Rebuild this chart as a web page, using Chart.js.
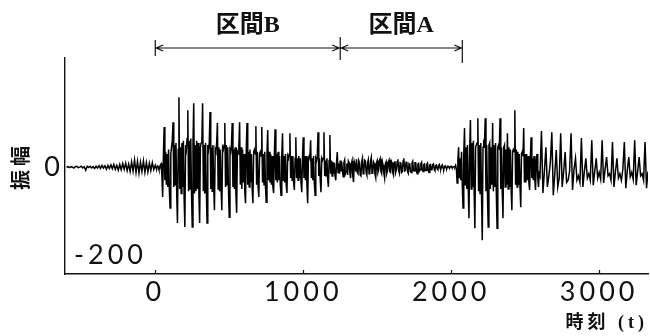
<!DOCTYPE html>
<html>
<head>
<meta charset="utf-8">
<script src="https://cdn.jsdelivr.net/npm/chart.js@4"></script>
<style>
  html, body { margin: 0; padding: 0; background: #fff; }
  #wrap { width: 650px; height: 336px; }
</style>
</head>
<body>
<div id="wrap"><canvas id="wave"></canvas></div>
<script>
// amplitude samples, kept per stretch of the recording: each has its own start time and sample step

// t = -600 .. -10, every 10 : quiet lead-in
const quietStart = -600, quietStep = 10;
const quiet = [
  0, 1, -1, 1, 0, -2, 1, 2, -1, 0,
  2, -2, 1, -7, 2, -1, 2, -2, 1, -3,
  2, -2, 3, -3, 4, -2, 3, -5, 4, -3,
  5, -4, 6, -5, 4, -7, 6, -6, 8, -5,
  9, -8, 7, -10, 12, -9, 16, -12, 13, -14,
  11, -10, 14, -12, 10, -11, 9, -8, 10, -6
];

// t = 0 .. 1255, every 5 : section B
const sectionBStart = 0, sectionBStep = 5;
const sectionB = [
  4, -2, -3, 3, 2, -5, -4, 6, 8, -20, -68, 25, 91, -30, 35, -40, 30, -45, 40, -50,
  -93, 30, 45, 60, 102, -45, 50, -40, 55, -60, -127, 40, 159, -50, 45, -60, 55, -45, 60, -70,
  -136, 50, 40, 65, 129, -55, 60, -50, 65, -60, -136, 55, 145, -60, 50, -55, 60, -50, 55, -65,
  -127, 45, 55, 60, 145, -55, 50, -60, 55, -50, -127, 50, 40, 55, 125, -50, 45, -55, 50, -45,
  -98, 40, 35, 55, 100, -50, 45, -55, 40, -50, -98, 45, 40, 50, 100, -45, 50, -40, 45, -55,
  -114, 40, 35, 50, 100, -45, 40, -50, 45, -60, -104, 35, 30, 45, 102, -40, 45, -50, 40, -35,
  30, -55, -82, 40, 100, -40, 35, -45, 40, -35, 30, -50, -82, 35, 40, 30, 93, -40, 35, -45,
  -68, 30, 35, 25, 91, -35, 30, -40, 35, -45, -80, 30, 84, -30, 35, -35, 30, -40, 25, -45,
  -59, 30, 86, -30, 30, -35, 35, -30, 25, -40, -64, 25, 77, -30, 25, -35, 30, -40, -59, 25,
  20, 30, 77, -25, 25, -30, 25, -35, -52, 20, 68, -25, 20, -30, 25, -25, 20, -35, -57, 20,
  68, -25, 25, -30, 25, -40, -82, 20, 25, 20, 61, -25, 20, -30, 25, -35, -64, 20, 15, 25,
  79, -20, 20, -30, -57, 20, 15, 20, 79, -20, 15, -20, 20, -25, -45, 15, 73, -15, 15, -20,
  12, -15, 10, -20, -30, 10, 34, -12, 8, -15, 15, -10
];

// t = 1260 .. 2035, every 5 : section A
const sectionAStart = 1260, sectionAStep = 5;
const sectionA = [
  12, -8, -22, 10, 16, -15, -10, 8, -18, 14, 10, -12, -25, 6, 14, -20, -34, 12, 5, -10,
  18, -12, -15, 15, 10, -18, -20, 12, 20, -15, -8, 16, 14, -12, -18, 10, 17, -15, -12, 14,
  22, -14, -10, 12, 8, -16, -24, 10, 15, -12, -6, 14, 19, -10, -15, 12, 4, -14, -25, 8,
  12, -14, -8, 12, 16, -10, -12, 14, 10, -12, -18, 10, 14, -12, -5, 12, 18, -8, -14, 10,
  9, -12, -10, 14, 20, -9, -8, 11, 12, -10, -14, 8, 6, -10, -12, 9, 13, -8, -9, 10,
  10, -8, -15, 7, 8, -9, -6, 8, 11, -7, -10, 6, 7, -8, -8, 6, 9, -6, -12, 5,
  6, -6, -5, 5, 7, -5, -8, 4, 5, -4, -6, 4, 6, -3, -4, 3, 5, -3, -5, 2,
  3, -2, -3, 2, 2, -1, -2, 1, 2, -1, -1, 1, 1, 0, 4, -5
];

// t = 2040 .. 2595, every 5 : second burst
const burstStart = 2040, burstStep = 5;
const burst = [
  -36, 15, 45, -25, 20, -30, 35, -40, -93, 30, 89, -40, 45, -50, 50, -45, -116, 40, 107, -50,
  55, -45, 60, -55, -139, 45, 50, 55, 111, -55, 50, -60, 55, -65, -166, 45, 55, 50, 111, -55,
  50, -60, -136, 50, 55, -50, 45, -40, 100, -55, 50, -45, 55, -60, -139, 45, 50, 40, 111, -50,
  45, -55, -116, 45, 50, -45, 40, -40, 77, -50, 45, -45, 40, -50, -98, 35, 40, 35, 129, -40,
  40, -45, 35, -40, 30, -45, -91, 30, 35, 25, 89, -35, 30, -35, 30, -30, 25, -35, -52, 20,
  68, -25, 20, -30, 25, -30, -52, 15, 30, -25, -45, -15
];

// t = 2600 .. 3330, every 10 : periodic tail
const tailStart = 2600, tailStep = 10;
const tail = [
  -20, 82, -59, -10, 45, -45, -20, 10, 79, -64,
  -15, 39, -45, -25, 77, -45, -10, 34, -35, -30,
  -10, 77, -52, -5, 20, -30, -20, -35, 66, -45,
  -10, 20, -25, -15, -30, 61, -41, -10, 20, -25,
  -12, -28, 61, -36, -5, 23, -20, -15, -30, 57,
  -45, -10, 20, -25, -15, -30, -5, 57, -48, -8,
  23, -22, -12, -28, 61, -41, -10, 23, -20, -15,
  -30, 57, -48, -10
];

const xTicks = [0, 1000, 2000, 3000];
const yTicks = [0];
const yInnerLabel = -200;
const intervalEdges = [0, 1250, 2075];
const intervalNames = ['区間B', '区間A'];

const points = [];
function addSegment(start, step, values) {
  values.forEach((v, i) => points.push({ x: start + i * step, y: v }));
}
addSegment(quietStart, quietStep, quiet);
addSegment(sectionBStart, sectionBStep, sectionB);
addSegment(sectionAStart, sectionAStep, sectionA);
addSegment(burstStart, burstStep, burst);
addSegment(tailStart, tailStep, tail);

const tickFont = { family: 'Lato', size: 27, weight: 400 };

// interval arrows on top, inner -200 label, inward tick marks
const decorations = {
  id: 'decorations',
  beforeDraw(chart) {
    chart.ctx.letterSpacing = '4px';
  },
  afterDraw(chart) {
    const ctx = chart.ctx;
    const xs = chart.scales.x, ys = chart.scales.y;
    const area = chart.chartArea;
    ctx.save();
    ctx.letterSpacing = '0px';
    ctx.strokeStyle = '#111';
    ctx.fillStyle = '#111';
    ctx.lineWidth = 1.2;

    // small ticks pointing up from the time axis
    xTicks.forEach(v => {
      const px = Math.round(xs.getPixelForValue(v)) + 0.5;
      ctx.beginPath();
      ctx.moveTo(px, area.bottom);
      ctx.lineTo(px, area.bottom - 4);
      ctx.stroke();
    });

    // interval brackets
    const edgePx = intervalEdges.map(v => xs.getPixelForValue(v));
    const barSpans = [[40, 56], [37, 60], [40, 63]];
    edgePx.forEach((px, i) => {
      ctx.beginPath();
      ctx.moveTo(px, barSpans[i][0]);
      ctx.lineTo(px, barSpans[i][1]);
      ctx.stroke();
    });
    const lineY = 48;
    ctx.font = 'bold 24px "Liberation Serif", "Noto Sans CJK JP"';
    ctx.textAlign = 'center';
    ctx.textBaseline = 'middle';
    intervalNames.forEach((name, i) => {
      const x1 = edgePx[i] + 1, x2 = edgePx[i + 1] - 1;
      ctx.beginPath();
      ctx.moveTo(x1, lineY);
      ctx.lineTo(x2, lineY);
      // arrowheads
      ctx.moveTo(x1 + 7, lineY - 3);
      ctx.lineTo(x1, lineY);
      ctx.lineTo(x1 + 7, lineY + 3);
      ctx.moveTo(x2 - 7, lineY - 3);
      ctx.lineTo(x2, lineY);
      ctx.lineTo(x2 - 7, lineY + 3);
      ctx.stroke();
      ctx.fillText(name, (x1 + x2) / 2, 26);
    });

    // -200 sits inside the plot, next to the axis
    ctx.letterSpacing = '4px';
    ctx.font = '400 27px Lato';
    ctx.textAlign = 'left';
    ctx.fillText(String(yInnerLabel), area.left + 9, ys.getPixelForValue(yInnerLabel));
    ctx.restore();
    ctx.letterSpacing = '0px';
  }
};

const ctx = document.getElementById('wave').getContext('2d');
const waveChart = new Chart(ctx, {
  type: 'line',
  data: {
    datasets: [{
      data: points,
      borderColor: '#000',
      borderWidth: 1.5,
      pointRadius: 0,
      tension: 0,
      fill: false
    }]
  },
  options: {
    responsive: true,
    maintainAspectRatio: false,
    animation: false,
    layout: { padding: { top: 58, right: 2, left: 0, bottom: 0 } },
    plugins: { legend: { display: false }, tooltip: { enabled: false } },
    scales: {
      x: {
        type: 'linear',
        min: -610,
        max: 3330,
        afterBuildTicks: s => { s.ticks = xTicks.map(v => ({ value: v })); },
        afterFit: s => { s.height = 62; },
        grid: { display: false, drawTicks: false },
        border: { color: '#111', width: 1.4 },
        ticks: {
          color: '#111', font: tickFont, padding: 2, maxRotation: 0, autoSkip: false,
          callback: v => String(v)
        },
        title: {
          display: true,
          text: '時刻 (t)',
          align: 'end',
          color: '#111',
          font: { family: '"Liberation Serif", "Noto Sans CJK JP"', size: 18, weight: 'bold' },
          padding: { top: 0, bottom: 2 }
        }
      },
      y: {
        min: -243,
        max: 248,
        afterBuildTicks: s => { s.ticks = yTicks.map(v => ({ value: v })); },
        afterFit: s => { s.width = 65; },
        grid: { display: false, drawTicks: false },
        border: { color: '#111', width: 1.4 },
        ticks: { color: '#111', font: tickFont, padding: 1, callback: v => String(v) },
        title: {
          display: true,
          text: '振幅',
          color: '#111',
          font: { family: '"Noto Sans CJK JP"', size: 20, weight: 'bold' },
          padding: { top: 8, bottom: 0 }
        }
      }
    }
  },
  plugins: [decorations]
});
</script>
</body>
</html>
